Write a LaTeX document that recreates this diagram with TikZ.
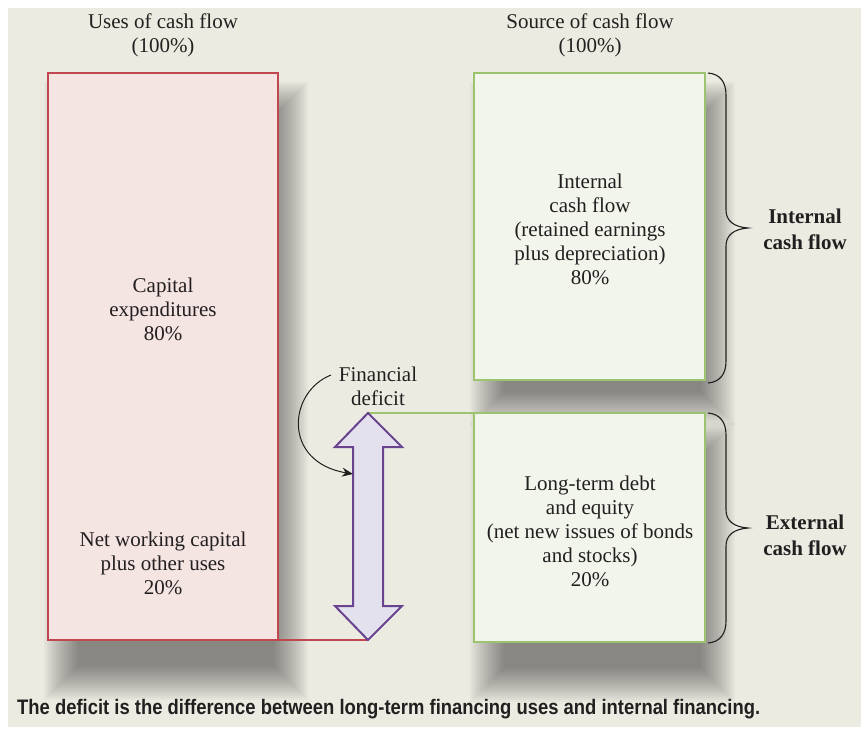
\documentclass[tikz,border=0pt]{standalone}
\usepackage{graphicx}
\usepackage{fontspec}
\setmainfont{Liberation Serif}
\newfontfamily\capfont{Liberation Sans}
\usetikzlibrary{arrows.meta}
\definecolor{bg}{RGB}{236,235,225}
\definecolor{redfill}{RGB}{244,228,226}
\definecolor{redline}{RGB}{192,70,80}
\definecolor{greenfill}{RGB}{242,245,236}
\definecolor{greenline}{RGB}{156,196,111}
\definecolor{arrowfill}{RGB}{227,225,238}
\definecolor{arrowline}{RGB}{106,67,144}
\definecolor{ink}{RGB}{35,31,32}
\newcommand\softshadow[4]{%
  \foreach \i in {0,...,17}{%
    \pgfmathsetmacro\dd{18-2*\i}
    \fill[black, fill opacity=0.028] ({#1-\dd},{#2-\dd}) rectangle ({#3+\dd},{#4+\dd});
  }}
\begin{document}
\begin{tikzpicture}[x=1pt,y=-1pt,
  txt/.style={font=\fontsize{21}{24}\selectfont, align=center, text=ink, inner sep=0pt},
  btxt/.style={font=\bfseries\fontsize{21}{26}\selectfont, align=center, text=ink, inner sep=0pt},
  redbox/.style={draw=redline, fill=redfill, line width=2pt, inner sep=0pt, outer sep=0pt},
  greenbox/.style={draw=greenline, fill=greenfill, line width=2pt, inner sep=0pt, outer sep=0pt},
  bracel/.style={draw=ink, line width=1.1pt},
  curv/.style={draw=ink, line width=1pt, -{Stealth[length=11pt,width=9pt]}}]
\useasboundingbox (0,0) rectangle (861,729);
\fill[bg] (8,8) rectangle (861,727);

% shadows
\softshadow{62}{100}{290}{682}
\softshadow{488}{100}{717}{408}
\softshadow{488}{440}{717}{684}

% boxes
\node[redbox, minimum width=230pt, minimum height=567pt] (uses) at (163,356.5) {};
\node[greenbox, minimum width=231pt, minimum height=307pt] (int) at (589.5,226.5) {};
\node[greenbox, minimum width=231pt, minimum height=229pt] (ext) at (589.5,527.5) {};

% double arrow
\coordinate (dtop) at (368,413);
\coordinate (dbot) at (368,640);
\draw[redline, line width=2pt] (uses.south east) -- (dbot);
\draw[greenline, line width=2pt] (dtop) -- (ext.north west);
\draw[arrowline, fill=arrowfill, line width=2pt, line join=miter]
  (dtop) -- (402,447) -- (383,447) -- (383,606) -- (402,606) -- (dbot)
  -- (335,606) -- (353,606) -- (353,447) -- (335,447) -- cycle;

% texts
\node[txt] (usesT) at (163,35) {Uses of cash flow\\(100\%)};
\node[txt] (srcT) at (590,35) {Source of cash flow\\(100\%)};
\node[txt] (capex) at (163,309) {Capital\\expenditures\\80\%};
\node[txt] (nwc) at (163,563) {Net working capital\\plus other uses\\20\%};
\node[txt] (intT) at (590,229) {Internal\\cash flow\\(retained earnings\\plus depreciation)\\80\%};
\node[txt] (extT) at (590,531) {Long-term debt\\and equity\\(net new issues of bonds\\and stocks)\\20\%};
\node[txt] (fd) at (378,386) {Financial\\deficit};
\node[btxt] (intL) at (805,229) {Internal\\cash flow};
\node[btxt] (extL) at (805,535) {External\\cash flow};

% curved arrow
\coordinate (cstart) at (331,375);
\coordinate (cend) at (353,474);
\draw[curv] (cstart) .. controls (288,392) and (282,462) .. (cend);

% braces
\draw[bracel] (708,73) .. controls (720,74) and (726,82) .. (726,95) -- (726,210)
  .. controls (726,221) and (734,227) .. (748,228)
  .. controls (734,229) and (726,235) .. (726,246) -- (726,361)
  .. controls (726,374) and (720,382) .. (708,383);
\draw[bracel] (708,413) .. controls (720,414) and (726,422) .. (726,435) -- (726,510)
  .. controls (726,521) and (734,527) .. (748,528)
  .. controls (734,529) and (726,535) .. (726,546) -- (726,621)
  .. controls (726,634) and (720,642) .. (708,643);

% caption
\node[anchor=base west, inner sep=0pt, text=ink] (cap) at (17,714)
  {\resizebox{743pt}{\height}{\capfont\bfseries\fontsize{21}{23}\selectfont The deficit is the difference between long-term financing uses and internal financing.}};
\end{tikzpicture}
\end{document}
